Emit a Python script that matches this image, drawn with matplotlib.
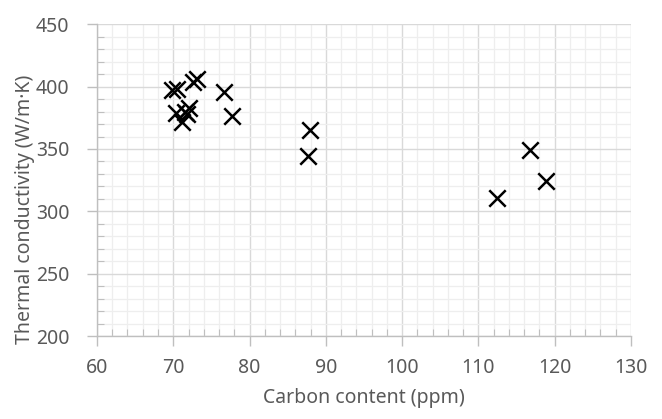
import matplotlib
matplotlib.use("Agg")
import matplotlib.pyplot as plt
from matplotlib.ticker import MultipleLocator

# Data
carbon_ppm = [69.8, 70.5, 72.6, 73.1, 76.6, 77.7, 70.4, 71.1, 71.5, 72.0, 71.8,
              87.9, 87.7, 112.4, 116.8, 118.9]
conductivity = [397.5, 398.0, 403.5, 406.0, 395.5, 376.5, 378.5, 372.0, 380.0, 382.5, 378.0,
                365.0, 344.0, 311.0, 349.5, 324.5]

x_label = "Carbon content (ppm)"
y_label = "Thermal conductivity (W/m\u00b7K)"

plt.rcParams["font.family"] = ["Noto Sans", "DejaVu Sans"]

GRAY_TEXT = "#595959"
GRID_MAJOR = "#d9d9d9"
GRID_MINOR = "#eeeeee"
AXIS = "#bfbfbf"

fig = plt.figure(figsize=(6.62, 4.19), dpi=100)
ax = fig.add_axes([0.1465, 0.198, 0.8065, 0.744])

ax.scatter(carbon_ppm, conductivity, marker="x", s=140, c="black", linewidths=1.8, zorder=3)

ax.set_xlim(60, 130)
ax.set_ylim(200, 450)
ax.xaxis.set_major_locator(MultipleLocator(10))
ax.xaxis.set_minor_locator(MultipleLocator(2))
ax.yaxis.set_major_locator(MultipleLocator(50))
ax.yaxis.set_minor_locator(MultipleLocator(10))

ax.grid(which="major", color=GRID_MAJOR, linewidth=1.0)
ax.grid(which="minor", color=GRID_MINOR, linewidth=0.9)
ax.set_axisbelow(True)

for side in ("top", "right"):
    ax.spines[side].set_visible(False)
for side in ("left", "bottom"):
    ax.spines[side].set_color(AXIS)
    ax.spines[side].set_linewidth(1.0)

ax.tick_params(which="major", direction="out", length=7, width=1.0, color=AXIS,
               labelsize=14, labelcolor=GRAY_TEXT)
ax.tick_params(axis="x", which="major", pad=9)
ax.tick_params(axis="y", which="major", pad=13)
ax.tick_params(which="minor", direction="in", length=5, width=0.8, color=AXIS)

ax.set_xlabel(x_label, fontsize=14, color=GRAY_TEXT, labelpad=7)
ax.set_ylabel(y_label, fontsize=14, color=GRAY_TEXT)
# excel placed the y title a bit below the plot centre
ax.yaxis.set_label_coords(-0.117, 0.405)

fig.savefig("out.png", dpi=100)
